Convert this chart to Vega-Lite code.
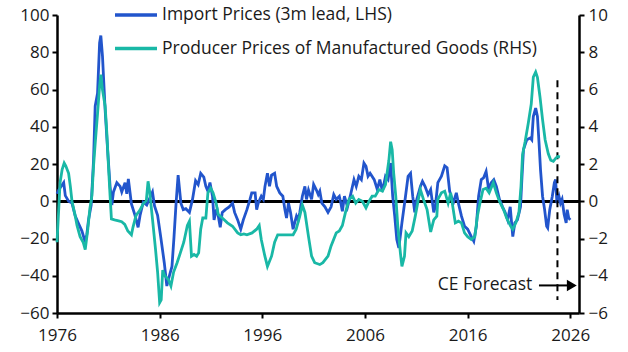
{
  "$schema": "https://vega.github.io/schema/vega-lite/v6.json",
  "width": 522,
  "height": 298,
  "autosize": {"type": "none"},
  "padding": {"left": 57, "top": 15, "right": 49, "bottom": 39},
  "background": "white",
  "config": {
    "view": {"stroke": null},
    "font": "Open Sans",
    "axis": {
      "grid": false,
      "domainColor": "#000000",
      "domainWidth": 2.5,
      "tickColor": "#000000",
      "tickWidth": 2,
      "tickSize": 5,
      "labelFontSize": 17,
      "labelColor": "#1a1a1a",
      "labelFont": "Open Sans",
      "labelOverlap": false,
      "title": null
    },
    "legend": {"labelFont": "Open Sans"}
  },
  "datasets": {
    "imp": [
      {"t":1976.0,"v":4},{"t":1976.16,"v":6},{"t":1976.65,"v":10},{"t":1976.81,"v":3},{"t":1977.13,"v":0},{"t":1977.46,"v":-1},{"t":1977.78,"v":-8},{"t":1978.1,"v":-12},{"t":1978.43,"v":-16},{"t":1978.75,"v":-22},{"t":1978.9,"v":-18},{"t":1979.07,"v":-10},{"t":1979.33,"v":-2},{"t":1979.56,"v":22},{"t":1979.72,"v":51},{"t":1979.95,"v":58},{"t":1980.15,"v":85},{"t":1980.27,"v":89},{"t":1980.43,"v":78},{"t":1980.69,"v":49},{"t":1980.95,"v":26},{"t":1981.17,"v":8},{"t":1981.34,"v":-2},{"t":1981.5,"v":5},{"t":1981.83,"v":10},{"t":1982.15,"v":8},{"t":1982.31,"v":5},{"t":1982.63,"v":10},{"t":1982.8,"v":4},{"t":1982.95,"v":12},{"t":1983.25,"v":-1.4},{"t":1983.6,"v":-7.6},{"t":1983.9,"v":-14},{"t":1984.09,"v":-7.6},{"t":1984.4,"v":-0.5},{"t":1984.74,"v":-2},{"t":1985.06,"v":2},{"t":1985.3,"v":5},{"t":1985.5,"v":-2.5},{"t":1985.8,"v":-7.6},{"t":1986.1,"v":-19},{"t":1986.45,"v":-33},{"t":1986.7,"v":-45.5},{"t":1986.95,"v":-40},{"t":1987.2,"v":-35},{"t":1987.4,"v":-19},{"t":1987.6,"v":-1},{"t":1987.8,"v":14},{"t":1988.07,"v":-1},{"t":1988.3,"v":-4.5},{"t":1988.55,"v":-4},{"t":1988.9,"v":-6},{"t":1989.2,"v":1},{"t":1989.5,"v":11},{"t":1989.75,"v":9},{"t":1990.0,"v":15},{"t":1990.3,"v":13},{"t":1990.5,"v":8},{"t":1990.7,"v":5.4},{"t":1990.9,"v":10},{"t":1991.15,"v":2.7},{"t":1991.3,"v":-10},{"t":1991.5,"v":-5},{"t":1991.6,"v":-4.5},{"t":1991.9,"v":-14},{"t":1992.1,"v":-6},{"t":1992.4,"v":-4.5},{"t":1992.77,"v":-3},{"t":1993.1,"v":-1},{"t":1993.3,"v":-6},{"t":1993.6,"v":-10},{"t":1993.9,"v":-15},{"t":1994.15,"v":-10},{"t":1994.5,"v":-4.5},{"t":1994.8,"v":1},{"t":1994.97,"v":4.5},{"t":1995.3,"v":4.5},{"t":1995.45,"v":-4.5},{"t":1995.6,"v":-1},{"t":1995.9,"v":2.7},{"t":1996.1,"v":1},{"t":1996.26,"v":8},{"t":1996.5,"v":15},{"t":1996.7,"v":8},{"t":1996.9,"v":14},{"t":1997.2,"v":15},{"t":1997.4,"v":8},{"t":1997.7,"v":4.5},{"t":1998.0,"v":2.7},{"t":1998.2,"v":-4.5},{"t":1998.36,"v":-9},{"t":1998.55,"v":-1},{"t":1998.75,"v":-6},{"t":1999.0,"v":-15},{"t":1999.15,"v":-11.6},{"t":1999.33,"v":-8},{"t":1999.5,"v":-10},{"t":1999.65,"v":-6},{"t":1999.9,"v":2.7},{"t":2000.15,"v":8},{"t":2000.3,"v":1},{"t":2000.5,"v":6},{"t":2000.8,"v":1},{"t":2001.0,"v":9},{"t":2001.27,"v":6},{"t":2001.45,"v":3.6},{"t":2001.6,"v":5.4},{"t":2001.8,"v":-1},{"t":2002.1,"v":-3},{"t":2002.4,"v":-6},{"t":2002.7,"v":-3},{"t":2002.96,"v":3.6},{"t":2003.2,"v":1},{"t":2003.5,"v":2.7},{"t":2003.65,"v":-1},{"t":2003.8,"v":-5.4},{"t":2004.0,"v":2.7},{"t":2004.3,"v":-3},{"t":2004.6,"v":3.6},{"t":2004.93,"v":11.6},{"t":2005.15,"v":8},{"t":2005.4,"v":13.4},{"t":2005.65,"v":11.6},{"t":2005.9,"v":20.5},{"t":2006.1,"v":18.8},{"t":2006.3,"v":13.4},{"t":2006.5,"v":15},{"t":2006.9,"v":11.6},{"t":2007.2,"v":6.3},{"t":2007.45,"v":11.6},{"t":2007.7,"v":5.4},{"t":2008.0,"v":13.4},{"t":2008.25,"v":11.6},{"t":2008.5,"v":20.5},{"t":2008.7,"v":2.7},{"t":2008.9,"v":-8},{"t":2009.1,"v":-20.5},{"t":2009.3,"v":-25},{"t":2009.6,"v":-11.6},{"t":2009.95,"v":2.7},{"t":2010.2,"v":13.4},{"t":2010.44,"v":15},{"t":2010.65,"v":2.7},{"t":2010.85,"v":-6},{"t":2011.05,"v":1},{"t":2011.4,"v":8},{"t":2011.6,"v":10.7},{"t":2011.85,"v":8},{"t":2012.15,"v":3.6},{"t":2012.4,"v":6.3},{"t":2012.7,"v":-6},{"t":2012.85,"v":-3},{"t":2013.1,"v":10},{"t":2013.45,"v":13.4},{"t":2013.77,"v":19},{"t":2014.0,"v":18},{"t":2014.25,"v":5.4},{"t":2014.6,"v":-1},{"t":2014.9,"v":4.5},{"t":2015.1,"v":-1},{"t":2015.4,"v":-8},{"t":2015.7,"v":-13.4},{"t":2016.0,"v":-15},{"t":2016.36,"v":-19},{"t":2016.6,"v":-21.5},{"t":2016.85,"v":-13.4},{"t":2017.07,"v":2.7},{"t":2017.33,"v":11.6},{"t":2017.55,"v":12.5},{"t":2017.8,"v":16},{"t":2018.05,"v":6.3},{"t":2018.3,"v":10},{"t":2018.55,"v":11.6},{"t":2018.8,"v":8},{"t":2019.1,"v":1},{"t":2019.4,"v":-3},{"t":2019.66,"v":-6},{"t":2019.9,"v":-10},{"t":2020.15,"v":-3},{"t":2020.4,"v":-19},{"t":2020.6,"v":-11.6},{"t":2020.85,"v":-10},{"t":2021.15,"v":-3},{"t":2021.3,"v":13.4},{"t":2021.44,"v":27.7},{"t":2021.76,"v":33},{"t":2022.1,"v":34},{"t":2022.25,"v":33},{"t":2022.4,"v":45.5},{"t":2022.63,"v":50},{"t":2022.8,"v":45.5},{"t":2022.96,"v":31},{"t":2023.1,"v":17},{"t":2023.3,"v":2.7},{"t":2023.5,"v":-4.5},{"t":2023.7,"v":-13.4},{"t":2023.8,"v":-14.3},{"t":2024.0,"v":-4.5},{"t":2024.25,"v":2.7},{"t":2024.45,"v":10},{"t":2024.57,"v":11.6},{"t":2024.7,"v":-1},{"t":2024.9,"v":2.7},{"t":2025.05,"v":-1},{"t":2025.2,"v":1},{"t":2025.4,"v":-7},{"t":2025.6,"v":-11.6},{"t":2025.7,"v":-4.5},{"t":2025.85,"v":-9},{"t":2026.0,"v":-10}
    ],
    "ppi": [
      {"t":1976.0,"v":-2.2},{"t":1976.16,"v":-0.5},{"t":1976.3,"v":1.0},{"t":1976.5,"v":1.7},{"t":1976.7,"v":2.05},{"t":1976.85,"v":1.9},{"t":1977.13,"v":1.5},{"t":1977.3,"v":0.8},{"t":1977.46,"v":0.0},{"t":1977.78,"v":-0.8},{"t":1977.95,"v":-1.3},{"t":1978.25,"v":-1.9},{"t":1978.55,"v":-2.2},{"t":1978.75,"v":-2.6},{"t":1979.0,"v":-1.5},{"t":1979.2,"v":-0.4},{"t":1979.4,"v":0.3},{"t":1979.56,"v":1.9},{"t":1979.72,"v":3.1},{"t":1979.95,"v":4.7},{"t":1980.15,"v":6.2},{"t":1980.27,"v":6.8},{"t":1980.43,"v":6.0},{"t":1980.69,"v":5.1},{"t":1980.85,"v":3.7},{"t":1981.0,"v":2.05},{"t":1981.17,"v":0.3},{"t":1981.3,"v":-0.95},{"t":1981.6,"v":-1.0},{"t":1982.0,"v":-1.05},{"t":1982.3,"v":-1.1},{"t":1982.6,"v":-1.24},{"t":1982.9,"v":-1.6},{"t":1983.25,"v":-1.8},{"t":1983.4,"v":-1.4},{"t":1983.7,"v":-0.76},{"t":1984.05,"v":-0.5},{"t":1984.4,"v":-0.14},{"t":1984.7,"v":0.03},{"t":1984.87,"v":1.07},{"t":1985.03,"v":0.5},{"t":1985.3,"v":-0.95},{"t":1985.6,"v":-2.6},{"t":1985.8,"v":-3.8},{"t":1986.0,"v":-5.45},{"t":1986.15,"v":-5.3},{"t":1986.3,"v":-3.7},{"t":1986.5,"v":-4.0},{"t":1986.85,"v":-4.2},{"t":1987.1,"v":-4.55},{"t":1987.36,"v":-3.8},{"t":1987.7,"v":-3.3},{"t":1988.0,"v":-2.8},{"t":1988.35,"v":-2.2},{"t":1988.7,"v":-1.3},{"t":1988.9,"v":-1.07},{"t":1989.1,"v":-2.95},{"t":1989.35,"v":-2.86},{"t":1989.6,"v":-2.95},{"t":1989.8,"v":-2.77},{"t":1990.0,"v":-1.5},{"t":1990.2,"v":-0.9},{"t":1990.5,"v":-0.9},{"t":1990.7,"v":0.45},{"t":1990.97,"v":0.7},{"t":1991.2,"v":0.45},{"t":1991.5,"v":-0.1},{"t":1991.7,"v":-0.7},{"t":1992.1,"v":-0.9},{"t":1992.6,"v":-1.16},{"t":1993.1,"v":-1.34},{"t":1993.6,"v":-1.7},{"t":1993.9,"v":-1.8},{"t":1994.2,"v":-1.75},{"t":1994.5,"v":-1.8},{"t":1995.0,"v":-1.7},{"t":1995.45,"v":-1.5},{"t":1995.7,"v":-1.3},{"t":1995.9,"v":-2.05},{"t":1996.25,"v":-2.95},{"t":1996.5,"v":-3.5},{"t":1996.9,"v":-2.95},{"t":1997.2,"v":-2.2},{"t":1997.5,"v":-1.8},{"t":1998.0,"v":-1.8},{"t":1998.5,"v":-1.8},{"t":1999.0,"v":-1.8},{"t":1999.3,"v":-1.5},{"t":1999.65,"v":-0.8},{"t":1999.9,"v":-0.2},{"t":2000.15,"v":-0.6},{"t":2000.5,"v":-1.9},{"t":2000.8,"v":-2.95},{"t":2001.1,"v":-3.3},{"t":2001.6,"v":-3.4},{"t":2001.9,"v":-3.3},{"t":2002.4,"v":-2.95},{"t":2002.7,"v":-2.4},{"t":2003.2,"v":-1.7},{"t":2003.5,"v":-1.6},{"t":2003.8,"v":-1.3},{"t":2004.1,"v":-0.6},{"t":2004.45,"v":0.1},{"t":2004.8,"v":0.27},{"t":2005.1,"v":-0.1},{"t":2005.4,"v":0.1},{"t":2005.75,"v":0.0},{"t":2006.1,"v":-0.36},{"t":2006.4,"v":0.0},{"t":2006.7,"v":0.27},{"t":2007.0,"v":0.27},{"t":2007.36,"v":0.63},{"t":2007.7,"v":0.54},{"t":2008.0,"v":0.9},{"t":2008.33,"v":2.2},{"t":2008.5,"v":3.2},{"t":2008.65,"v":2.77},{"t":2008.8,"v":1.5},{"t":2009.0,"v":0.27},{"t":2009.2,"v":-1.34},{"t":2009.45,"v":-2.77},{"t":2009.6,"v":-3.5},{"t":2009.85,"v":-2.95},{"t":2010.0,"v":-1.7},{"t":2010.27,"v":-1.9},{"t":2010.6,"v":-1.6},{"t":2010.9,"v":-0.8},{"t":2011.2,"v":0.1},{"t":2011.4,"v":0.63},{"t":2011.7,"v":0.1},{"t":2012.05,"v":-0.45},{"t":2012.4,"v":-1.65},{"t":2012.7,"v":-1.0},{"t":2013.0,"v":-0.8},{"t":2013.1,"v":0.1},{"t":2013.45,"v":0.45},{"t":2013.77,"v":0.54},{"t":2014.1,"v":-0.1},{"t":2014.35,"v":0.45},{"t":2014.6,"v":-0.45},{"t":2014.8,"v":-1.16},{"t":2015.1,"v":-1.07},{"t":2015.4,"v":-1.16},{"t":2015.7,"v":-1.7},{"t":2016.0,"v":-1.9},{"t":2016.36,"v":-2.05},{"t":2016.7,"v":-1.9},{"t":2016.95,"v":-0.8},{"t":2017.2,"v":-0.1},{"t":2017.5,"v":0.63},{"t":2017.8,"v":0.7},{"t":2018.1,"v":0.45},{"t":2018.5,"v":1.0},{"t":2018.8,"v":0.45},{"t":2019.1,"v":0.0},{"t":2019.5,"v":-0.45},{"t":2019.8,"v":-0.9},{"t":2020.2,"v":-1.34},{"t":2020.4,"v":-1.5},{"t":2020.7,"v":-1.16},{"t":2021.0,"v":-0.6},{"t":2021.2,"v":0.8},{"t":2021.35,"v":2.5},{"t":2021.6,"v":3.2},{"t":2021.9,"v":4.16},{"t":2022.2,"v":5.23},{"t":2022.4,"v":6.66},{"t":2022.63,"v":6.94},{"t":2022.8,"v":6.66},{"t":2023.05,"v":5.6},{"t":2023.3,"v":4.38},{"t":2023.55,"v":3.3},{"t":2023.86,"v":2.55},{"t":2024.1,"v":2.2},{"t":2024.35,"v":2.14},{"t":2024.57,"v":2.3},{"t":2024.77,"v":2.4},{"t":2025.0,"v":2.38}
    ],
    "fc": [{"t": 2024.75, "top": 65, "bottom": -53}],
    "arrow": [{"t0": 2022.95, "t1": 2025.9, "y": -45.2, "head": 2026.15, "label": "CE Forecast", "tl": 2022.3}]
  },
  "layer": [
    {
      "layer": [
        {
          "data": {"name": "imp"},
          "mark": {"type": "rule", "color": "#000000", "strokeWidth": 2.5},
          "encoding": {
            "y": {"datum": 0, "type": "quantitative", "scale": {"domain": [-60, 100], "nice": false},
                  "axis": {"values": [-60, -40, -20, 0, 20, 40, 60, 80, 100], "labelPadding": 3, "labelOverlap": false}}
          }
        },
        {
          "data": {"name": "imp"},
          "transform": [{"calculate": "'Import Prices (3m lead, LHS)'", "as": "s"}],
          "mark": {"type": "line", "strokeWidth": 2.8, "interpolate": "linear"},
          "encoding": {
            "x": {"field": "t", "type": "quantitative", "scale": {"domain": [1976, 2026.85], "nice": false, "zero": false},
                  "axis": {"values": [1976, 1986, 1996, 2006, 2016, 2026], "format": "d", "labelPadding": 9, "labelFlush": false}},
            "y": {"field": "v", "type": "quantitative", "scale": {"domain": [-60, 100], "nice": false},
                  "axis": {"values": [-60, -40, -20, 0, 20, 40, 60, 80, 100], "labelPadding": 3, "labelOverlap": false}},
            "color": {"field": "s", "type": "nominal",
              "scale": {"domain": ["Import Prices (3m lead, LHS)", "Producer Prices of Manufactured Goods (RHS)"], "range": ["#2255CC", "#19B8A6"]},
              "legend": {"orient": "none", "legendX": 56, "legendY": -10, "title": null, "symbolType": "stroke", "symbolSize": 1764, "symbolStrokeWidth": 3.5, "clipHeight": 20, "rowPadding": 13.5, "labelFontSize": 17.5, "labelColor": "#1a1a1a", "labelOffset": 3, "padding": 0, "labelLimit": 500}}
          }
        },
        {
          "data": {"name": "fc"},
          "mark": {"type": "rule", "color": "#000000", "strokeWidth": 2, "strokeDash": [7, 5]},
          "encoding": {
            "x": {"field": "t", "type": "quantitative"},
            "y": {"field": "top", "type": "quantitative", "scale": {"domain": [-60, 100], "nice": false},
                  "axis": {"values": [-60, -40, -20, 0, 20, 40, 60, 80, 100], "labelPadding": 3, "labelOverlap": false}},
            "y2": {"field": "bottom"}
          }
        },
        {
          "data": {"name": "arrow"},
          "mark": {"type": "rule", "color": "#000000", "strokeWidth": 2},
          "encoding": {
            "x": {"field": "t0", "type": "quantitative"},
            "x2": {"field": "t1"},
            "y": {"field": "y", "type": "quantitative", "scale": {"domain": [-60, 100], "nice": false},
                  "axis": {"values": [-60, -40, -20, 0, 20, 40, 60, 80, 100], "labelPadding": 3, "labelOverlap": false}}
          }
        },
        {
          "data": {"name": "arrow"},
          "mark": {"type": "point", "shape": "triangle-right", "filled": true, "color": "#000000", "size": 130, "opacity": 1},
          "encoding": {
            "x": {"field": "head", "type": "quantitative"},
            "y": {"field": "y", "type": "quantitative", "scale": {"domain": [-60, 100], "nice": false},
                  "axis": {"values": [-60, -40, -20, 0, 20, 40, 60, 80, 100], "labelPadding": 3, "labelOverlap": false}}
          }
        },
        {
          "data": {"name": "arrow"},
          "mark": {"type": "text", "align": "right", "baseline": "middle", "fontSize": 17.5, "color": "#1a1a1a", "font": "Open Sans"},
          "encoding": {
            "x": {"field": "tl", "type": "quantitative"},
            "y": {"field": "y", "type": "quantitative", "scale": {"domain": [-60, 100], "nice": false},
                  "axis": {"values": [-60, -40, -20, 0, 20, 40, 60, 80, 100], "labelPadding": 3, "labelOverlap": false}},
            "text": {"field": "label"}
          }
        }
      ]
    },
    {
      "data": {"name": "ppi"},
      "transform": [{"calculate": "'Producer Prices of Manufactured Goods (RHS)'", "as": "s"}],
      "mark": {"type": "line", "strokeWidth": 2.8},
      "encoding": {
        "x": {"field": "t", "type": "quantitative"},
        "y": {"field": "v", "type": "quantitative", "scale": {"domain": [-6, 10], "nice": false},
              "axis": {"orient": "right", "values": [-6, -4, -2, 0, 2, 4, 6, 8, 10], "labelPadding": 4}},
        "color": {"field": "s", "type": "nominal"}
      }
    }
  ],
  "resolve": {"scale": {"y": "independent"}}
}
